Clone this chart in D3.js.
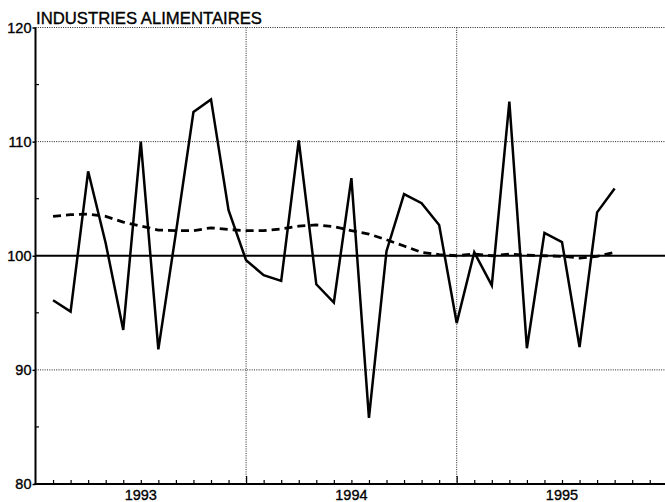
<!DOCTYPE html>
<html>
<head>
<meta charset="utf-8">
<script src="https://cdn.jsdelivr.net/npm/d3@7"></script>
<style>
  html, body { margin: 0; padding: 0; background: #fff; }
  svg { display: block; }
  text { font-family: "Liberation Sans", Arial, sans-serif; fill: #000; stroke: #000; stroke-width: 0.35px; }
</style>
</head>
<body>
<svg id="chart" width="665" height="502"></svg>
<script>
// ---- data ----
const title = "INDUSTRIES ALIMENTAIRES";
const months = [
  "1993-01","1993-02","1993-03","1993-04","1993-05","1993-06","1993-07","1993-08","1993-09","1993-10","1993-11","1993-12",
  "1994-01","1994-02","1994-03","1994-04","1994-05","1994-06","1994-07","1994-08","1994-09","1994-10","1994-11","1994-12",
  "1995-01","1995-02","1995-03","1995-04","1995-05","1995-06","1995-07","1995-08","1995-09"
];
const seriesRaw = [
  96.1, 95.1, 107.4, 101.1, 93.5, 110.0, 91.8, 102.0, 112.6, 113.7, 104.0, 99.6,
  98.3, 97.8, 110.1, 97.5, 95.9, 106.8, 85.8, 100.4, 105.4, 104.6, 102.7, 94.1,
  100.3, 97.4, 113.5, 91.9, 102.0, 101.2, 92.0, 103.8, 105.9
];
const seriesTrend = [
  103.45, 103.6, 103.65, 103.45, 102.95, 102.6, 102.25, 102.2, 102.2, 102.45, 102.3, 102.2,
  102.2, 102.35, 102.6, 102.7, 102.55, 102.2, 101.9, 101.4, 100.85, 100.3, 100.1, 100.0,
  100.15, 100.0, 100.15, 100.05, 100.0, 99.95, 99.8, 99.95, 100.3
];
const yearLabels = ["1993", "1994", "1995"];
const yMajorTicks = [80, 90, 100, 110, 120];
const yMinorTicks = [85, 95, 105, 115];
const yGridTicks = [90, 110, 120];
const referenceValue = 100;

// ---- layout ----
const svg = d3.select("#chart");
const x0 = 35.5, monthW = 17.55;
const x = d3.scaleLinear().domain([0, 36]).range([x0, x0 + 36 * monthW]);
const y = d3.scaleLinear().domain([80, 120]).range([484, 27.5]);
const xRight = 665;

// gridlines (dotted)
const grid = svg.append("g").attr("stroke", "#222").attr("stroke-width", 1)
  .attr("stroke-dasharray", "1,1.3").attr("fill", "none");
grid.selectAll("line.h").data(yGridTicks).enter().append("line")
  .attr("x1", x(0)).attr("x2", xRight)
  .attr("y1", d => y(d)).attr("y2", d => y(d));
grid.selectAll("line.v").data([12, 24]).enter().append("line")
  .attr("x1", d => x(d)).attr("x2", d => x(d))
  .attr("y1", y(120)).attr("y2", y(80));

// reference line at 100
svg.append("line")
  .attr("x1", x(0)).attr("x2", xRight)
  .attr("y1", y(referenceValue)).attr("y2", y(referenceValue))
  .attr("stroke", "#000").attr("stroke-width", 1.8);

// axes
const yAxis = d3.axisLeft(y).tickValues(yMajorTicks).tickSize(3).tickPadding(1).tickFormat(d3.format("d"));
const gy = svg.append("g").attr("transform", `translate(${x(0)},0)`).call(yAxis);
gy.select(".domain").remove();
gy.selectAll(".tick line").attr("stroke", "#000").attr("stroke-width", 1.5);
gy.selectAll(".tick text").attr("font-size", 14.5).attr("font-family", "Liberation Sans, Arial, sans-serif")
  .attr("fill", "#000").attr("stroke", "#000").attr("stroke-width", 0.35);
svg.append("line").attr("x1", x(0)).attr("x2", x(0)).attr("y1", y(120)).attr("y2", y(80) + 1)
  .attr("stroke", "#000").attr("stroke-width", 2);
svg.append("g").selectAll("line").data(yMinorTicks).enter().append("line")
  .attr("x1", x(0)).attr("x2", x(0) + 3.5)
  .attr("y1", d => y(d)).attr("y2", d => y(d))
  .attr("stroke", "#000").attr("stroke-width", 1.2);

const monthTicks = d3.range(1, 36);
const gx = svg.append("g").attr("transform", `translate(0,${y(80)})`)
  .call(d3.axisBottom(x).tickValues(monthTicks).tickSize(-4).tickFormat(""));
gx.select(".domain").remove();
gx.selectAll(".tick line").attr("stroke", "#000").attr("stroke-width", 1.2)
  .attr("y2", d => (d % 12 === 0 ? -8 : -4));
svg.append("line").attr("x1", x(0) - 1).attr("x2", xRight).attr("y1", y(80)).attr("y2", y(80))
  .attr("stroke", "#000").attr("stroke-width", 2);

svg.append("g").selectAll("text").data(yearLabels).enter().append("text")
  .attr("x", (d, i) => x(i * 12 + 6))
  .attr("y", 500)
  .attr("text-anchor", "middle")
  .attr("font-size", 14.5)
  .text(d => d);

// title
svg.append("text").attr("x", 36).attr("y", 24).attr("font-size", 16.5)
  .attr("textLength", 226).attr("lengthAdjust", "spacingAndGlyphs")
  .text(title);

// lines
const line = d3.line().x((d, i) => x(i + 1)).y(d => y(d)).curve(d3.curveLinear);
svg.append("path").datum(seriesTrend).attr("d", line)
  .attr("fill", "none").attr("stroke", "#000").attr("stroke-width", 2.8)
  .attr("stroke-dasharray", "8,5");
svg.append("path").datum(seriesRaw).attr("d", line)
  .attr("fill", "none").attr("stroke", "#000").attr("stroke-width", 2.5)
  .attr("stroke-linejoin", "miter").attr("stroke-miterlimit", 4);
</script>
</body>
</html>
